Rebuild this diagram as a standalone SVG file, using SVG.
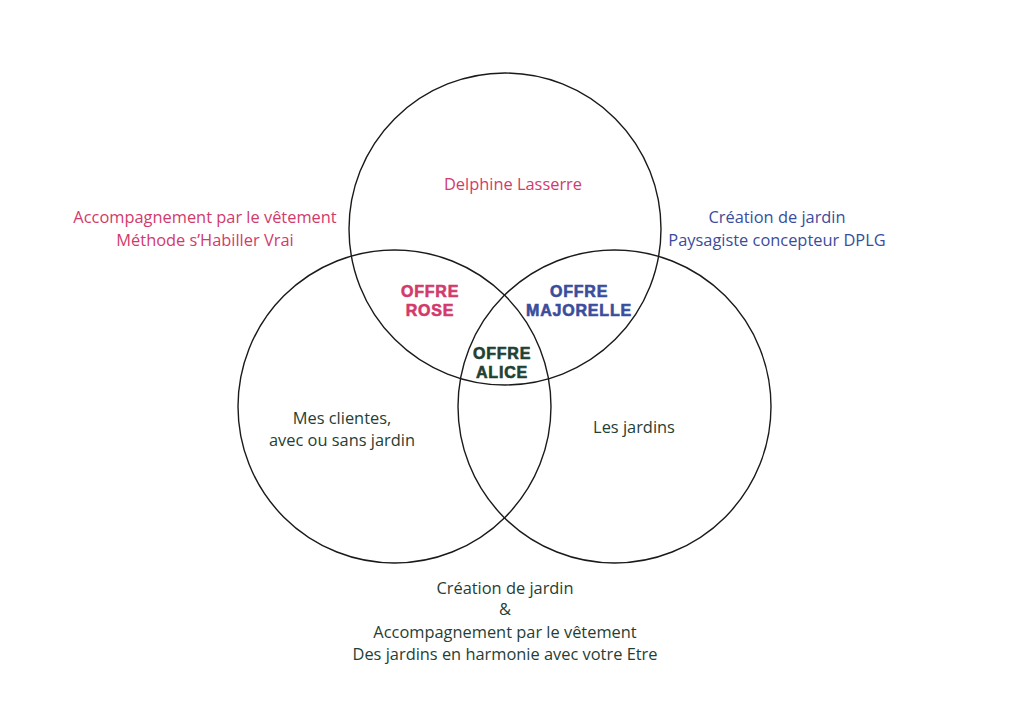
<svg xmlns="http://www.w3.org/2000/svg" width="1024" height="726" viewBox="0 0 1024 726">
<style>
.c{fill:none;stroke:#1a1a1a;stroke-width:1.4}
.t{font-family:"Open Sans","Noto Sans",sans-serif;font-size:16.4px;text-anchor:middle}
.b{font-family:"Liberation Sans",Arial,sans-serif;font-weight:bold;font-size:16px;letter-spacing:0.8px;text-anchor:middle;stroke-width:0.6px}
.pink{fill:#d23a6c}
.blue{fill:#3a4d9c}
.green{fill:#1f4133}
.b.pink{stroke:#d23a6c}
.b.blue{stroke:#3a4d9c}
.b.green{stroke:#1f4133}
</style>
<rect width="1024" height="726" fill="#ffffff"/>
<g id="connectors"></g>
<g id="circle-top"><circle class="c" cx="505" cy="229" r="156"/></g>
<g id="circle-left"><circle class="c" cx="394.5" cy="406.5" r="156.5"/></g>
<g id="circle-right"><circle class="c" cx="614.5" cy="406.5" r="156.5"/></g>
<g id="label-vetement"><text class="t pink" x="205" y="223">Accompagnement par le vêtement</text><text class="t pink" x="205" y="246">Méthode s’Habiller Vrai</text></g>
<g id="label-delphine"><text class="t pink" x="513" y="190">Delphine Lasserre</text></g>
<g id="label-jardin"><text class="t blue" x="777" y="223">Création de jardin</text><text class="t blue" x="777" y="246">Paysagiste concepteur DPLG</text></g>
<g id="offre-rose"><text class="b pink" x="430" y="297">OFFRE</text><text class="b pink" x="430" y="316">ROSE</text></g>
<g id="offre-majorelle"><text class="b blue" x="579" y="297">OFFRE</text><text class="b blue" x="579" y="316">MAJORELLE</text></g>
<g id="offre-alice"><text class="b green" x="502" y="359">OFFRE</text><text class="b green" x="502" y="378">ALICE</text></g>
<g id="label-clientes"><text class="t green" x="342" y="424">Mes clientes,</text><text class="t green" x="342" y="446">avec ou sans jardin</text></g>
<g id="label-jardins"><text class="t green" x="634" y="433">Les jardins</text></g>
<g id="label-bottom"><text class="t green" x="505" y="594">Création de jardin</text><text class="t green" x="505" y="615">&amp;</text><text class="t green" x="505" y="638">Accompagnement par le vêtement</text><text class="t green" x="505" y="660">Des jardins en harmonie avec votre Etre</text></g>
</svg>
